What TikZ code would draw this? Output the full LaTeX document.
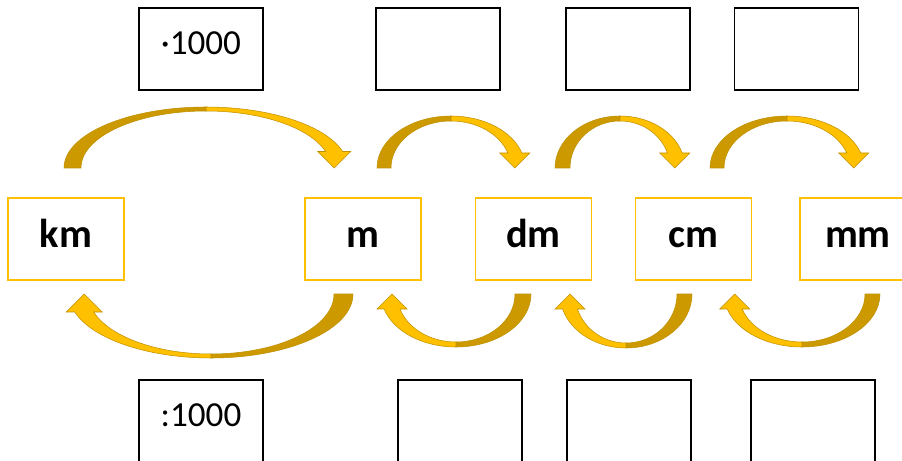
\documentclass[tikz,border=0pt]{standalone}
\usepackage{fontspec}
\setmainfont{Carlito}
\usepackage{tikz}
\definecolor{oro}{RGB}{255,192,0}
\definecolor{oroscuro}{RGB}{204,153,0}
\definecolor{bordooro}{RGB}{191,144,0}
\tikzset{
  casella/.style={draw=black,line width=0.9pt,minimum width=2.48cm,minimum height=1.64cm,
    inner sep=0pt,font=\fontsize{20}{24}\selectfont,text height=12pt,text depth=6.3pt},
  unita/.style={draw=oro,line width=0.9pt,minimum width=2.32cm,minimum height=1.64cm,
    inner sep=0pt,font=\fontsize{23}{28}\selectfont\bfseries,text height=16pt,text depth=5.8pt},
  pezzo/.style={draw=bordooro,line width=0.3pt}
}
% centro, base, raggi esterni, raggi interni, mezza punta, rotazione
\newcommand{\freccia}[8]{%
  \begin{scope}[shift={(#1,#2)},rotate=#8]
    \pgfmathsetmacro{\ango}{asin(#7/#4)}
    \pgfmathsetmacro{\angi}{asin(#7/#6)}
    \pgfmathsetmacro{\collo}{(#3*cos(\ango)+#5*cos(\angi))/2}
    \filldraw[pezzo,fill=oroscuro] (-#3,0) arc[start angle=180,end angle=90,x radius=#3,y radius=#4]
      -- (0,#6) arc[start angle=90,end angle=180,x radius=#5,y radius=#6] -- cycle;
    \filldraw[pezzo,fill=oro] (0,#4) arc[start angle=90,end angle=\ango,x radius=#3,y radius=#4]
      -- (\collo+#7,#7) -- (\collo,0) -- (\collo-#7,#7)
      -- ({#5*cos(\angi)},#7) arc[start angle=\angi,end angle=90,x radius=#5,y radius=#6] -- cycle;
  \end{scope}}

\begin{document}
\begin{tikzpicture}[x=0.02cm,y=0.02cm]
  \useasboundingbox (0,0) rectangle (902,460);
  %caselle sopra
  \node[casella] (t1) at (201,411) {·1000};
  \node[casella] (t2) at (438,411) {};
  \node[casella] (t3) at (628,411) {};
  \node[casella] (t4) at (796.5,411) {};
  %unita
  \node[unita] (km) at (66,221) {km};
  \node[unita] (m) at (363,221) {m};
  \node[unita] (dm) at (533.5,221) {dm};
  \node[unita] (cm) at (693.5,221) {cm};
  \node[unita] (mm) at (858,221) {mm};
  %caselle sotto
  \node[casella] (b1) at (201,39) {:1000};
  \node[casella] (b2) at (460,39) {};
  \node[casella] (b3) at (629,39) {};
  \node[casella] (b4) at (813,39) {};
  %frecce sopra
  \freccia{206}{292}{142}{61}{125}{57}{16.5}{0}
  \freccia{451}{292}{74}{52}{60}{47}{15}{0}
  \freccia{620}{292}{65}{52}{50}{47}{15}{0}
  \freccia{787}{292}{77}{52}{63}{47}{15}{0}
  %frecce sotto
  \freccia{211}{166}{142}{64}{123}{60}{18}{180}
  \freccia{456}{166}{75}{53}{59}{48}{15}{180}
  \freccia{626}{166}{66}{54}{51}{49}{15}{180}
  \freccia{802}{166}{78}{53}{63}{48}{15}{180}
\end{tikzpicture}
\end{document}
